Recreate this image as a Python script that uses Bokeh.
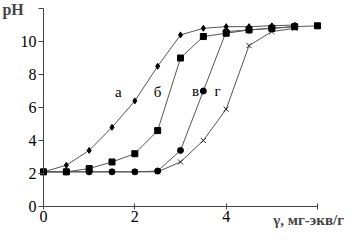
from bokeh.plotting import figure
from bokeh.models import Label, Range1d, FixedTicker, LinearAxis
from bokeh.embed import file_html
from bokeh.resources import INLINE

x = [0, 0.5, 1.0, 1.5, 2.0, 2.5, 3.0, 3.5, 4.0, 4.5, 5.0, 5.5, 6.0]
ph_a = [2.1, 2.5, 3.4, 4.8, 6.4, 8.5, 10.4, 10.8, 10.9, 10.9, 10.95, 11.0]
ph_b = [2.1, 2.1, 2.3, 2.7, 3.2, 4.6, 9.0, 10.3, 10.5, 10.7, 10.8, 10.9, 10.95]
ph_v = [2.1, 2.1, 2.1, 2.1, 2.1, 2.15, 3.4, 7.0, 10.6, 10.7, 10.8, 10.9]
ph_g = [2.1, 2.1, 2.1, 2.1, 2.1, 2.1, 2.7, 4.0, 5.9, 9.75, 10.6, 10.8]
curve_labels = ["а", "б", "в", "г"]
label_x = [1.64, 2.5, 3.33, 3.81]
label_y = [6.95, 6.95, 7.0, 7.0]
x_ticks = [0, 2, 4, 6]
y_ticks = [0, 2, 4, 6, 8, 10, 12]

FONT = "'Liberation Serif'"
p = figure(width=344, height=228, output_backend="svg", toolbar_location=None,
           x_range=Range1d(-0.9416, 6.591), y_range=Range1d(-1.333, 12.485),
           x_axis_location=None, y_axis_location=None,
           min_border_left=0, min_border_right=0, min_border_top=0, min_border_bottom=0)
p.grid.visible = False
p.outline_line_color = None

xa = LinearAxis(fixed_location=0, bounds=(0, 6), ticker=FixedTicker(ticks=x_ticks),
                major_label_overrides={6: ""})
ya = LinearAxis(fixed_location=0, bounds=(0, 12), ticker=FixedTicker(ticks=y_ticks),
                major_label_overrides={12: ""})
for ax in (xa, ya):
    ax.axis_line_color = "#444444"
    ax.major_tick_line_color = "#444444"
    ax.minor_tick_line_color = None
    ax.major_label_text_font = FONT
    ax.major_label_text_font_size = "16px"
    ax.major_label_text_color = "black"
ya.major_tick_in = 0
ya.major_tick_out = 5
ya.major_label_standoff = 2
xa.major_tick_in = 3
xa.major_tick_out = 3
xa.major_label_standoff = 1
p.add_layout(xa, "below")
p.add_layout(ya, "left")

LC = "#555555"
p.line(x[:len(ph_a)], ph_a, line_color=LC, line_width=1)
p.line(x[:len(ph_b)], ph_b, line_color=LC, line_width=1)
p.line(x[:len(ph_v)], ph_v, line_color=LC, line_width=1)
p.line(x[:len(ph_g)], ph_g, line_color=LC, line_width=1)
p.scatter(x[:len(ph_g)], ph_g, marker="x", size=7, line_color="#222222", line_width=1)
p.scatter(x[:len(ph_v)], ph_v, marker="circle", size=6, color="black")
p.scatter(x[:len(ph_b)], ph_b, marker="square", size=6, color="black")
p.scatter(x[:len(ph_a)], ph_a, marker="diamond", size=6, color="black")

for t, lx, ly in zip(curve_labels, label_x, label_y):
    p.add_layout(Label(x=lx, y=ly, text=t, text_font=FONT, text_font_size="15px",
                       text_align="center", text_baseline="middle", text_color="black"))

p.add_layout(Label(x=-0.9, y=12.485, text="pH", text_font=FONT, text_baseline="top",
                   text_font_style="bold", text_font_size="16px"))
p.add_layout(Label(x=6.58, y=0, y_offset=-5, text="γ, мг-экв/г", text_font=FONT,
                   text_font_style="bold", text_font_size="15px", text_align="right",
                   text_baseline="top"))

open("out.html", "w").write(file_html(p, INLINE))
